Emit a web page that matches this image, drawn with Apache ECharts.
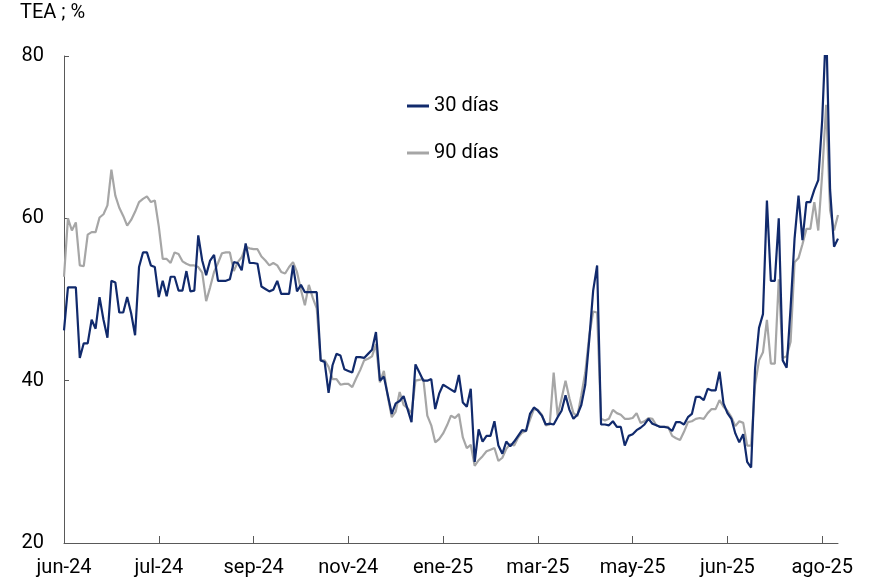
<!DOCTYPE html>
<html>
<head>
<meta charset="utf-8">
<script src="https://cdn.jsdelivr.net/npm/echarts@6/dist/echarts.min.js"></script>
<style>
  html, body { margin: 0; padding: 0; background: #fff; }
  #chart { width: 869px; height: 582px; }
</style>
</head>
<body>
<div id="chart"></div>
<script>
// etiquetas del eje x (una cada 24 observaciones)
const tickLabels = ['jun-24', 'jul-24', 'sep-24', 'nov-24', 'ene-25', 'mar-25', 'may-25', 'jun-25', 'ago-25'];
const labelStep = 24;

// TEA 30 días (%)
const tasa30 = [
  46.2, 51.5, 51.5, 51.5, 42.8, 44.6, 44.6, 47.5, 46.4, 50.3,
  47.5, 45.3, 52.3, 52.1, 48.4, 48.4, 50.3, 48.3, 45.6, 54.0,
  55.8, 55.8, 54.2, 54.0, 50.3, 52.3, 50.4, 52.8, 52.8, 51.1,
  51.1, 53.5, 51.0, 51.1, 57.9, 54.8, 53.0, 54.8, 55.5, 52.3,
  52.3, 52.3, 52.5, 54.6, 54.5, 53.6, 56.9, 54.5, 54.5, 54.4,
  51.6, 51.3, 51.0, 51.2, 52.3, 50.7, 50.7, 50.7, 54.2, 51.0,
  51.8, 50.9, 50.9, 50.9, 50.9, 42.5, 42.3, 38.5, 41.9, 43.3,
  43.1, 41.4, 41.2, 41.0, 42.9, 42.9, 42.8, 43.3, 43.8, 46.0,
  40.0, 40.5, 38.2, 35.9, 37.2, 37.5, 38.1, 36.5, 34.9, 42.0,
  41.0, 40.0, 40.0, 40.2, 36.5, 38.4, 39.5, 39.2, 38.9, 38.6,
  40.7, 37.3, 36.8, 39.0, 30.0, 34.0, 32.5, 33.2, 33.2, 35.0,
  32.0, 31.0, 32.5, 31.9, 32.5, 33.2, 33.9, 33.8, 35.9, 36.7,
  36.3, 35.7, 34.6, 34.7, 34.6, 35.5, 36.3, 38.2, 36.4, 35.3,
  35.8, 37.0, 39.5, 45.0, 51.1, 54.2, 34.6, 34.6, 34.5, 35.0,
  34.3, 34.3, 32.0, 33.2, 33.4, 33.9, 34.2, 34.6, 35.3, 34.7,
  34.5, 34.3, 34.3, 34.2, 33.8, 34.9, 34.9, 34.6, 35.5, 35.9,
  38.0, 38.0, 37.6, 39.0, 38.8, 38.8, 41.1, 37.2, 36.0, 35.3,
  33.5, 32.4, 33.4, 30.0, 29.3, 41.5, 46.5, 48.2, 62.2, 52.3,
  52.3, 60.0, 42.5, 41.6, 49.0, 57.5, 62.8, 57.3, 62.0, 62.0,
  63.5, 64.7, 72.1, 84.0, 63.5, 56.5, 57.5
];

// TEA 90 días (%)
const tasa90 = [
  52.8, 60.0, 58.5, 59.5, 54.2, 54.1, 58.0, 58.3, 58.3, 60.1,
  60.5, 61.6, 66.0, 62.8, 61.3, 60.3, 59.1, 59.8, 60.8, 62.0,
  62.4, 62.7, 62.0, 62.2, 59.0, 55.0, 55.0, 54.5, 55.8, 55.6,
  54.7, 54.4, 54.2, 54.2, 54.0, 53.3, 49.8, 51.5, 53.4, 54.5,
  55.7, 55.8, 55.8, 53.5, 54.6, 55.2, 56.5, 56.3, 56.2, 56.2,
  55.3, 54.8, 54.2, 54.5, 54.2, 53.4, 53.2, 54.0, 54.6, 53.4,
  51.2, 49.3, 51.8, 50.2, 48.9, 42.5, 42.5, 41.7, 40.2, 40.2,
  39.5, 39.6, 39.6, 39.2, 40.3, 41.3, 42.5, 42.7, 43.0, 44.5,
  39.8, 41.2, 38.0, 35.5, 36.2, 38.6, 37.0, 36.6, 36.0, 40.0,
  40.1, 40.2, 35.7, 34.5, 32.4, 32.8, 33.5, 34.5, 35.7, 35.4,
  35.9, 33.0, 31.7, 32.1, 29.5, 30.2, 30.7, 31.3, 31.5, 31.7,
  30.1, 30.5, 31.6, 32.2, 32.0, 33.0, 33.6, 33.8, 35.2, 36.5,
  36.4, 35.8, 34.5, 34.6, 41.0, 35.7, 37.8, 40.0, 37.8, 36.0,
  35.6, 38.2, 41.0, 45.5, 48.5, 48.4, 35.3, 35.1, 35.3, 36.4,
  36.0, 35.8, 35.3, 35.3, 35.4, 36.0, 34.8, 35.0, 35.4, 35.3,
  34.5, 34.3, 34.3, 34.3, 33.2, 32.9, 32.7, 33.7, 34.9, 35.0,
  35.3, 35.4, 35.3, 36.0, 36.5, 36.5, 37.6, 36.8, 36.3, 35.5,
  34.4, 35.0, 34.8, 32.0, 32.0, 39.5, 42.5, 43.5, 47.5, 42.1,
  42.1, 52.5, 42.8, 43.0, 44.8, 54.6, 55.1, 56.8, 58.7, 58.7,
  62.0, 58.5, 65.5, 74.0, 61.0, 58.5, 60.4
];

const days = tasa30.map((_, i) => i);

const chart = echarts.init(document.getElementById('chart'), null, { renderer: 'canvas' });

chart.setOption({
  animation: false,
  textStyle: { fontFamily: 'Roboto, sans-serif' },
  title: {
    text: 'TEA ; %',
    left: 20,
    top: 3,
    padding: 0,
    textStyle: { fontSize: 20, fontWeight: 'normal', color: '#000' }
  },
  legend: {
    orient: 'vertical',
    left: 402,
    top: 91,
    itemWidth: 22,
    itemHeight: 3,
    itemGap: 27,
    icon: 'rect',
    data: ['30 días', '90 días'],
    textStyle: { fontSize: 20, color: '#000' }
  },
  grid: { left: 64, right: 31, top: 56, bottom: 39 },
  xAxis: {
    type: 'category',
    data: days,
    boundaryGap: false,
    axisLine: { lineStyle: { color: '#595959', width: 1 } },
    axisTick: {
      inside: true,
      length: 7,
      interval: labelStep - 1,
      lineStyle: { color: '#595959' }
    },
    axisLabel: {
      interval: labelStep - 1,
      margin: 15,
      fontSize: 20,
      color: '#000',
      formatter: (v, idx) => tickLabels[idx / labelStep] || ''
    },
    splitLine: { show: false }
  },
  yAxis: {
    type: 'value',
    min: 20,
    max: 80,
    interval: 20,
    axisLine: { show: true, lineStyle: { color: '#595959', width: 1 } },
    axisTick: { show: true, inside: true, length: 5, lineStyle: { color: '#595959' } },
    axisLabel: { fontSize: 20, color: '#000', margin: 20 },
    splitLine: { show: false }
  },
  series: [
    {
      name: '90 días',
      type: 'line',
      data: tasa90,
      symbol: 'none',
      lineStyle: { color: '#a6a6a6', width: 2.2 },
      itemStyle: { color: '#a6a6a6' }
    },
    {
      name: '30 días',
      type: 'line',
      data: tasa30,
      symbol: 'none',
      lineStyle: { color: '#112a6c', width: 2.2 },
      itemStyle: { color: '#112a6c' }
    }
  ]
});
</script>
</body>
</html>
